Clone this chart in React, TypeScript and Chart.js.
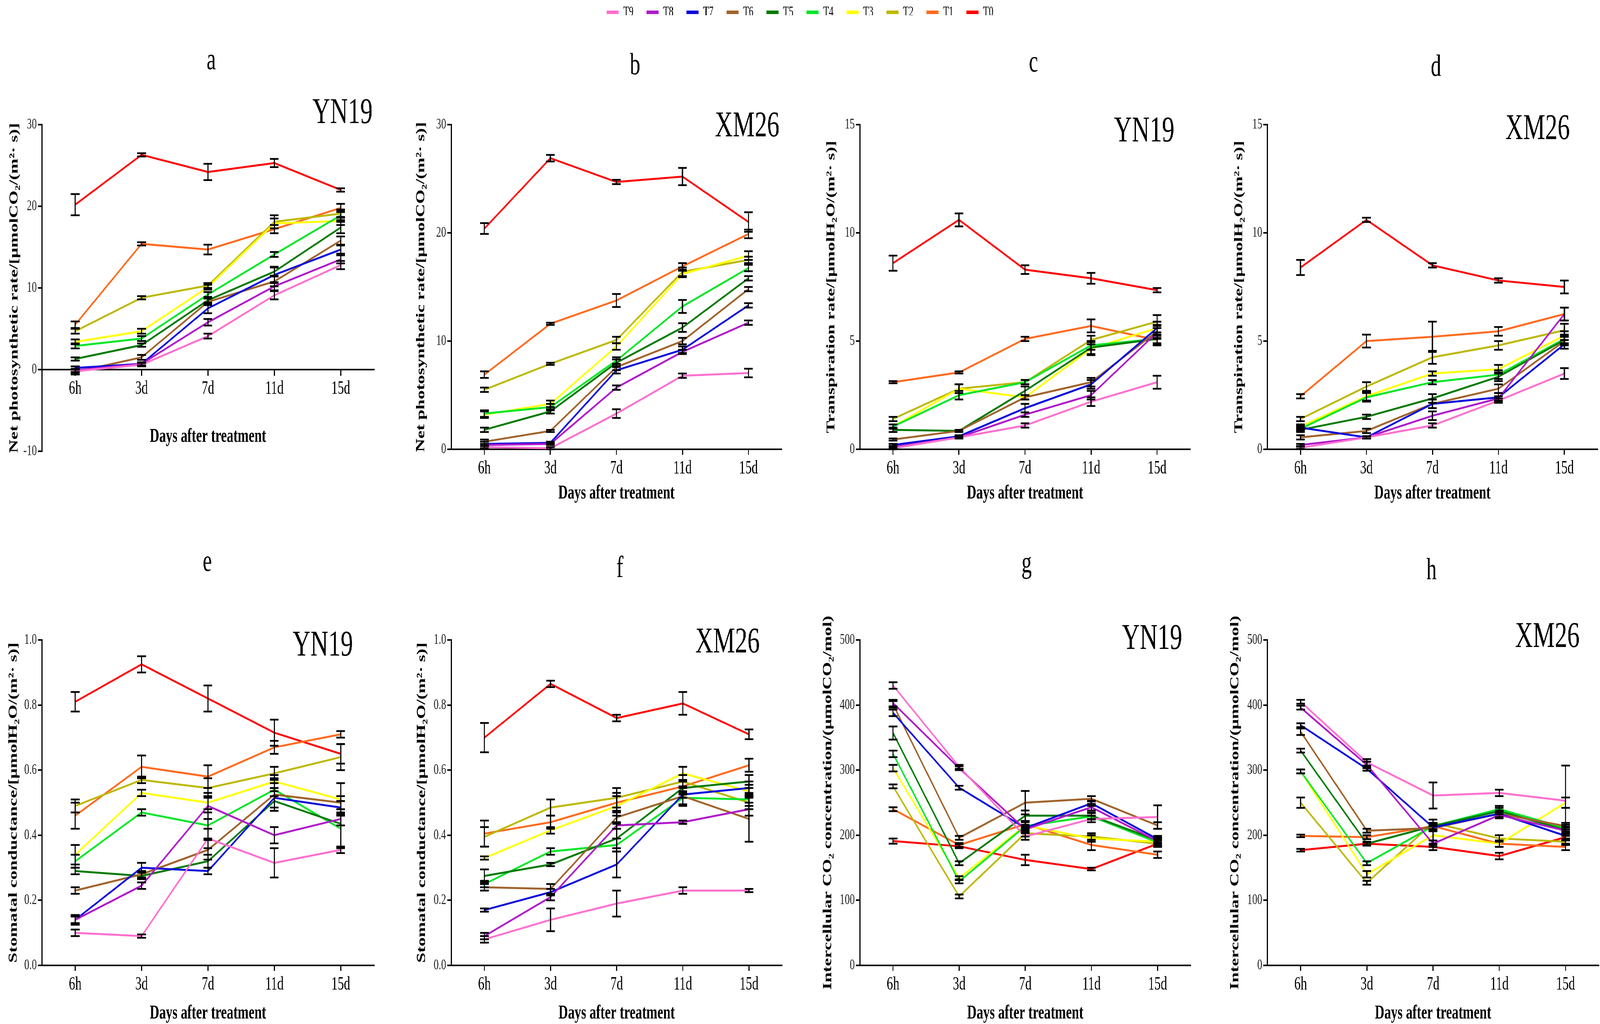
import React, { useEffect, useRef } from 'react';
import { Chart, registerables } from 'chart.js';

Chart.register(...registerables);

// ---------------- data ----------------
const CATEGORIES = ['6h', '3d', '7d', '11d', '15d'];
const SERIES = ['T9', 'T8', 'T7', 'T6', 'T5', 'T4', 'T3', 'T2', 'T1', 'T0'];

// rows follow SERIES order (T9 ... T0)
const PN_YN19 = [
  [-0.2, 0.6, 4.1, 9.1, 12.8],
  [-0.1, 0.7, 5.8, 10.2, 13.5],
  [0.2, 0.7, 7.5, 11.6, 14.7],
  [-0.3, 1.5, 8.3, 10.8, 15.8],
  [1.3, 3.0, 8.5, 12.0, 17.4],
  [2.9, 3.8, 9.2, 14.1, 18.9],
  [3.4, 4.7, 10.1, 17.9, 18.2],
  [4.7, 8.8, 10.3, 18.1, 19.1],
  [5.5, 15.4, 14.7, 17.2, 19.8],
  [20.2, 26.3, 24.2, 25.3, 22.0],
];
const PN_YN19_ERR = [
  [0.2, 0.2, 0.3, 0.5, 0.5],
  [0.2, 0.2, 0.4, 0.5, 0.5],
  [0.2, 0.2, 0.6, 1.0, 0.5],
  [0.3, 0.3, 0.4, 0.6, 0.5],
  [0.2, 0.2, 0.3, 0.5, 0.7],
  [0.3, 0.3, 0.3, 0.3, 0.6],
  [0.3, 0.3, 0.3, 0.6, 0.5],
  [0.3, 0.2, 0.3, 0.8, 0.5],
  [0.4, 0.2, 0.6, 0.5, 0.5],
  [1.3, 0.2, 1.0, 0.5, 0.2],
];

const PN_XM26 = [
  [0.2, 0.1, 3.3, 6.8, 7.05],
  [0.4, 0.5, 5.7, 9.0, 11.7],
  [0.5, 0.6, 7.3, 9.2, 13.3],
  [0.7, 1.7, 7.6, 10.0, 14.8],
  [1.8, 3.5, 8.0, 11.25, 15.8],
  [3.3, 3.9, 8.2, 13.2, 16.75],
  [3.2, 4.2, 9.5, 16.2, 17.9],
  [5.5, 7.9, 10.1, 16.4, 17.5],
  [6.9, 11.6, 13.75, 16.9, 19.9],
  [20.4, 26.9, 24.7, 25.2, 21.0],
];
const PN_XM26_ERR = [
  [0.1, 0.1, 0.4, 0.2, 0.4],
  [0.1, 0.1, 0.2, 0.2, 0.2],
  [0.2, 0.1, 0.3, 0.3, 0.2],
  [0.2, 0.1, 0.3, 0.3, 0.2],
  [0.2, 0.2, 0.3, 0.4, 0.2],
  [0.3, 0.3, 0.3, 0.6, 0.3],
  [0.3, 0.3, 0.3, 0.3, 0.4],
  [0.2, 0.1, 0.3, 0.4, 0.3],
  [0.3, 0.1, 0.6, 0.3, 0.4],
  [0.5, 0.3, 0.2, 0.8, 0.9],
];

const TR_YN19 = [
  [0.05, 0.55, 1.1, 2.2, 3.1],
  [0.1, 0.55, 1.6, 2.5, 5.4],
  [0.2, 0.6, 1.9, 3.0, 5.6],
  [0.45, 0.85, 2.4, 3.1, 5.45],
  [0.9, 0.85, 2.7, 4.7, 5.1],
  [1.05, 2.5, 3.1, 4.8, 5.1],
  [1.05, 2.8, 2.4, 4.65, 5.6],
  [1.4, 2.8, 3.1, 5.05, 5.9],
  [3.1, 3.55, 5.1, 5.7, 5.05],
  [8.6, 10.6, 8.3, 7.9, 7.35],
];
const TR_YN19_ERR = [
  [0.05, 0.05, 0.1, 0.2, 0.3],
  [0.05, 0.05, 0.1, 0.2, 0.3],
  [0.05, 0.05, 0.2, 0.2, 0.3],
  [0.05, 0.05, 0.1, 0.2, 0.3],
  [0.1, 0.05, 0.2, 0.3, 0.2],
  [0.1, 0.2, 0.1, 0.2, 0.3],
  [0.1, 0.2, 0.1, 0.3, 0.3],
  [0.1, 0.2, 0.1, 0.2, 0.3],
  [0.05, 0.05, 0.1, 0.3, 0.2],
  [0.35, 0.3, 0.2, 0.25, 0.1],
];

const TR_XM26 = [
  [0.07, 0.55, 1.1, 2.25, 3.5],
  [0.2, 0.55, 1.55, 2.35, 6.25],
  [1.0, 0.55, 2.1, 2.4, 4.85],
  [0.55, 0.85, 2.1, 2.8, 5.0],
  [0.9, 1.5, 2.35, 3.35, 5.05],
  [0.95, 2.4, 3.1, 3.45, 5.1],
  [1.05, 2.45, 3.5, 3.7, 5.25],
  [1.4, 2.9, 4.25, 4.8, 5.5],
  [2.45, 5.0, 5.2, 5.45, 6.25],
  [8.4, 10.6, 8.5, 7.8, 7.5],
];
const TR_XM26_ERR = [
  [0.05, 0.05, 0.1, 0.1, 0.25],
  [0.05, 0.05, 0.2, 0.1, 0.3],
  [0.1, 0.05, 0.2, 0.2, 0.2],
  [0.1, 0.1, 0.2, 0.2, 0.2],
  [0.1, 0.1, 0.2, 0.2, 0.2],
  [0.1, 0.2, 0.1, 0.2, 0.2],
  [0.1, 0.2, 0.1, 0.2, 0.2],
  [0.1, 0.2, 0.3, 0.2, 0.3],
  [0.1, 0.3, 0.7, 0.2, 0.3],
  [0.35, 0.1, 0.1, 0.1, 0.3],
];

const GS_YN19 = [
  [0.10, 0.09, 0.39, 0.315, 0.355],
  [0.14, 0.245, 0.49, 0.40, 0.45],
  [0.14, 0.30, 0.29, 0.515, 0.485],
  [0.23, 0.28, 0.355, 0.525, 0.50],
  [0.29, 0.275, 0.32, 0.505, 0.435],
  [0.32, 0.47, 0.43, 0.54, 0.42],
  [0.34, 0.53, 0.50, 0.565, 0.51],
  [0.49, 0.57, 0.545, 0.59, 0.64],
  [0.46, 0.61, 0.58, 0.67, 0.71],
  [0.81, 0.925, 0.82, 0.715, 0.65],
];
const GS_YN19_ERR = [
  [0.01, 0.005, 0.03, 0.045, 0.01],
  [0.015, 0.01, 0.04, 0.025, 0.02],
  [0.01, 0.015, 0.01, 0.03, 0.02],
  [0.01, 0.01, 0.03, 0.05, 0.02],
  [0.01, 0.01, 0.02, 0.03, 0.07],
  [0.02, 0.01, 0.04, 0.02, 0.06],
  [0.03, 0.01, 0.02, 0.02, 0.05],
  [0.02, 0.01, 0.03, 0.02, 0.04],
  [0.04, 0.035, 0.035, 0.02, 0.01],
  [0.03, 0.025, 0.04, 0.04, 0.03],
];

const GS_XM26 = [
  [0.08, 0.14, 0.19, 0.23, 0.23],
  [0.09, 0.21, 0.43, 0.44, 0.48],
  [0.17, 0.225, 0.31, 0.525, 0.545],
  [0.24, 0.235, 0.455, 0.52, 0.45],
  [0.275, 0.31, 0.39, 0.545, 0.565],
  [0.25, 0.35, 0.37, 0.515, 0.51],
  [0.33, 0.415, 0.49, 0.59, 0.535],
  [0.395, 0.485, 0.515, 0.565, 0.50],
  [0.405, 0.44, 0.50, 0.55, 0.615],
  [0.70, 0.865, 0.76, 0.805, 0.71],
];
const GS_XM26_ERR = [
  [0.01, 0.035, 0.04, 0.01, 0.005],
  [0.01, 0.01, 0.01, 0.005, 0.02],
  [0.005, 0.01, 0.04, 0.01, 0.02],
  [0.01, 0.015, 0.02, 0.03, 0.07],
  [0.02, 0.005, 0.03, 0.02, 0.02],
  [0.01, 0.01, 0.02, 0.02, 0.02],
  [0.005, 0.01, 0.03, 0.02, 0.02],
  [0.03, 0.025, 0.03, 0.02, 0.02],
  [0.04, 0.02, 0.03, 0.02, 0.02],
  [0.045, 0.01, 0.01, 0.035, 0.015],
];

const CI_YN19 = [
  [430, 305, 198, 225, 228],
  [403, 303, 209, 243, 191],
  [388, 273, 211, 249, 194],
  [401, 196, 250, 256, 215],
  [357, 157, 230, 230, 192],
  [325, 129, 214, 229, 189],
  [303, 134, 215, 195, 190],
  [275, 106, 203, 198, 187],
  [240, 185, 217, 185, 170],
  [191, 183, 162, 148, 187],
];
const CI_YN19_ERR = [
  [5, 3, 5, 5, 18],
  [5, 3, 5, 5, 5],
  [5, 3, 5, 4, 5],
  [5, 3, 18, 4, 5],
  [10, 3, 8, 5, 5],
  [5, 3, 8, 5, 5],
  [5, 3, 5, 5, 5],
  [3, 3, 5, 5, 5],
  [3, 3, 5, 8, 5],
  [4, 3, 8, 2, 5],
];

const CI_XM26 = [
  [405, 312, 261, 265, 253],
  [396, 308, 187, 231, 207],
  [369, 302, 212, 233, 199],
  [359, 207, 211, 233, 214],
  [330, 187, 214, 237, 208],
  [298, 157, 214, 240, 211],
  [298, 140, 200, 187, 250],
  [250, 127, 219, 195, 190],
  [199, 197, 214, 187, 182],
  [177, 187, 182, 168, 197],
];
const CI_XM26_ERR = [
  [3, 5, 20, 5, 54],
  [3, 5, 5, 5, 5],
  [3, 3, 5, 5, 5],
  [5, 3, 5, 5, 5],
  [3, 3, 5, 5, 5],
  [3, 3, 5, 5, 5],
  [3, 5, 15, 5, 8],
  [8, 3, 5, 5, 5],
  [2, 3, 5, 5, 5],
  [2, 2, 5, 5, 5],
];

// ---------------- style / layout ----------------
const FIG_W = 6097;
const FIG_H = 2621;
const COLORS = ['#FF6FCF', '#B01ACB', '#0A0ADC', '#A0642C', '#007A00', '#00E626', '#FFFF00', '#BDB800', '#FF6A1E', '#FF0000'];
const FONT = "'Liberation Serif', 'Times New Roman', 'DejaVu Serif', serif";
const Y_TITLE_SIZE = 47;
const X_TITLE_SIZE = 50;
const CAP_HALF = 16.5;

const TITLE_PN = 'Net photosynthetic rate/[μmolCO₂/(m²· s)]';
const TITLE_TR = 'Transpiration rate/[μmolH₂O/(m²· s)]';
const TITLE_GS = 'Stomatal conductance/[μmolH₂O/(m²· s)]';
const TITLE_CI = 'Intercellular CO₂ concentration/(μmolCO₂/mol)';

interface Box { left: number; top: number; width: number; height: number }
interface PanelSpec {
  key: string;
  values: number[][];
  errors: number[][];
  yTitle: string;
  yMin: number; yMax: number; step: number; dec: number;
  letter: string; cultivar: string;
  box: Box;
  axisX: number; plotRight: number; plotTop: number; plotBottom: number;
  yTitleX: number;
  letterX: number; letterBase: number;
  cultRight: number; cultBase: number;
  zeroAxis: boolean; xh: number; xTitlePad: number;
}

const PANELS: PanelSpec[] = [
  { key: 'a', values: PN_YN19, errors: PN_YN19_ERR, yTitle: TITLE_PN, yMin: -10, yMax: 30, step: 10, dec: 0,
    letter: 'a', cultivar: 'YN19', box: { left: 0, top: 0, width: 1530, height: 1310 },
    axisX: 160, plotRight: 1425, plotTop: 319, plotBottom: 1155, yTitleX: 55,
    letterX: 805, letterBase: 177, cultRight: 1420, cultBase: 315, zeroAxis: true, xh: 200, xTitlePad: 3 },
  { key: 'b', values: PN_XM26, errors: PN_XM26_ERR, yTitle: TITLE_PN, yMin: 0, yMax: 30, step: 10, dec: 0,
    letter: 'b', cultivar: 'XM26', box: { left: 1530, top: 0, width: 1530, height: 1310 },
    axisX: 1720, plotRight: 2978, plotTop: 319, plotBottom: 1150, yTitleX: 1605,
    letterX: 2420, letterBase: 190, cultRight: 2970, cultBase: 349, zeroAxis: false, xh: 140, xTitlePad: 2 },
  { key: 'c', values: TR_YN19, errors: TR_YN19_ERR, yTitle: TITLE_TR, yMin: 0, yMax: 15, step: 5, dec: 0,
    letter: 'c', cultivar: 'YN19', box: { left: 3060, top: 0, width: 1500, height: 1310 },
    axisX: 3277, plotRight: 4535, plotTop: 319, plotBottom: 1150, yTitleX: 3168,
    letterX: 3938, letterBase: 183, cultRight: 4475, cultBase: 362, zeroAxis: false, xh: 140, xTitlePad: 2 },
  { key: 'd', values: TR_XM26, errors: TR_XM26_ERR, yTitle: TITLE_TR, yMin: 0, yMax: 15, step: 5, dec: 0,
    letter: 'd', cultivar: 'XM26', box: { left: 4560, top: 0, width: 1537, height: 1310 },
    axisX: 4830, plotRight: 6087, plotTop: 319, plotBottom: 1150, yTitleX: 4722,
    letterX: 5472, letterBase: 194, cultRight: 5982, cultBase: 356, zeroAxis: false, xh: 140, xTitlePad: 2 },
  { key: 'e', values: GS_YN19, errors: GS_YN19_ERR, yTitle: TITLE_GS, yMin: 0, yMax: 1, step: 0.2, dec: 1,
    letter: 'e', cultivar: 'YN19', box: { left: 0, top: 1310, width: 1530, height: 1311 },
    axisX: 160, plotRight: 1425, plotTop: 1638, plotBottom: 2471, yTitleX: 52,
    letterX: 790, letterBase: 1461, cultRight: 1345, cultBase: 1678, zeroAxis: false, xh: 150, xTitlePad: 2 },
  { key: 'f', values: GS_XM26, errors: GS_XM26_ERR, yTitle: TITLE_GS, yMin: 0, yMax: 1, step: 0.2, dec: 1,
    letter: 'f', cultivar: 'XM26', box: { left: 1530, top: 1310, width: 1530, height: 1311 },
    axisX: 1720, plotRight: 2980, plotTop: 1638, plotBottom: 2471, yTitleX: 1608,
    letterX: 2362, letterBase: 1477, cultRight: 2895, cultBase: 1670, zeroAxis: false, xh: 150, xTitlePad: 2 },
  { key: 'g', values: CI_YN19, errors: CI_YN19_ERR, yTitle: TITLE_CI, yMin: 0, yMax: 500, step: 100, dec: 0,
    letter: 'g', cultivar: 'YN19', box: { left: 3060, top: 1310, width: 1500, height: 1311 },
    axisX: 3277, plotRight: 4537, plotTop: 1638, plotBottom: 2471, yTitleX: 3155,
    letterX: 3912, letterBase: 1465, cultRight: 4505, cultBase: 1661, zeroAxis: false, xh: 150, xTitlePad: 2 },
  { key: 'h', values: CI_XM26, errors: CI_XM26_ERR, yTitle: TITLE_CI, yMin: 0, yMax: 500, step: 100, dec: 0,
    letter: 'h', cultivar: 'XM26', box: { left: 4560, top: 1310, width: 1537, height: 1311 },
    axisX: 4830, plotRight: 6092, plotTop: 1638, plotBottom: 2471, yTitleX: 4707,
    letterX: 5455, letterBase: 1483, cultRight: 6019, cultBase: 1656, zeroAxis: false, xh: 150, xTitlePad: 2 },
];

// ---------------- plugins ----------------
const errorBarPlugin = {
  id: 'errorBars',
  afterDatasetsDraw(chart: any) {
    const ctx = chart.ctx;
    const ys = chart.scales.y;
    ctx.save();
    ctx.strokeStyle = '#000';
    ctx.lineWidth = 4.5;
    ctx.lineCap = 'butt';
    chart.data.datasets.forEach((ds: any, i: number) => {
      const meta = chart.getDatasetMeta(i);
      meta.data.forEach((pt: any, j: number) => {
        const v = ds.data[j];
        const e = ds.errors ? ds.errors[j] : 0;
        const x = pt.x;
        const yT = ys.getPixelForValue(v + e);
        const yB = ys.getPixelForValue(v - e);
        ctx.beginPath();
        ctx.moveTo(x, yT);
        ctx.lineTo(x, yB);
        ctx.moveTo(x - CAP_HALF, yT);
        ctx.lineTo(x + CAP_HALF, yT);
        ctx.moveTo(x - CAP_HALF, yB);
        ctx.lineTo(x + CAP_HALF, yB);
        ctx.stroke();
      });
    });
    ctx.restore();
  },
};

function makeTextPlugin(p: PanelSpec) {
  return {
    id: 'panelText_' + p.key,
    afterDraw(chart: any) {
      const ctx = chart.ctx;
      ctx.save();
      ctx.fillStyle = '#000';
      ctx.textBaseline = 'alphabetic';
      ctx.font = `78px ${FONT}`;
      ctx.textAlign = 'center';
      ctx.fillText(p.letter, p.letterX - p.box.left, p.letterBase - p.box.top);
      ctx.font = `94px ${FONT}`;
      ctx.textAlign = 'right';
      ctx.fillText(p.cultivar, p.cultRight - p.box.left, p.cultBase - p.box.top);
      ctx.restore();
    },
  };
}

// ---------------- components ----------------
function PanelChart({ p }: { p: PanelSpec }) {
  const ref = useRef<HTMLCanvasElement>(null);
  useEffect(() => {
    const canvas = ref.current;
    if (!canvas) return;
    const pl = p.yTitleX - p.box.left - Y_TITLE_SIZE / 2;
    const yWidth = p.axisX - p.box.left - pl;
    const pr = p.box.left + p.box.width - p.plotRight;
    const pt = p.plotTop - p.box.top;
    const pb = p.box.top + p.box.height - p.plotBottom - (p.zeroAxis ? 0 : p.xh);

    const datasets = SERIES.map((name, i) => ({
      label: name,
      data: p.values[i],
      errors: p.errors[i],
      borderColor: COLORS[i],
      backgroundColor: COLORS[i],
      borderWidth: 5,
      pointRadius: 0,
      pointHoverRadius: 0,
      tension: 0,
      fill: false,
    }));

    const chart = new Chart(canvas, {
      type: 'line',
      data: { labels: CATEGORIES, datasets: datasets as any },
      options: {
        animation: false,
        responsive: false,
        devicePixelRatio: 1,
        events: [],
        layout: { padding: { left: pl, right: pr, top: pt, bottom: pb } },
        plugins: {
          legend: { display: false },
          title: { display: false },
          tooltip: { enabled: false },
        },
        scales: {
          x: {
            type: 'category',
            offset: true,
            position: (p.zeroAxis ? { y: 0 } : 'bottom') as any,
            grid: {
              display: true, drawOnChartArea: false, drawTicks: true, tickLength: 14,
              color: '#000', lineWidth: 4, offset: false,
            },
            border: { display: true, color: '#000', width: 4 },
            ticks: {
              font: { family: FONT, size: 48, lineHeight: 1 }, color: '#000', padding: 11,
              maxRotation: 0, autoSkip: false,
            },
            title: {
              display: true, text: 'Days after treatment',
              font: { family: FONT, size: X_TITLE_SIZE, weight: 'bold', lineHeight: 1 }, color: '#000',
              padding: { top: 0, bottom: p.xTitlePad },
            },
            afterFit: (s: any) => { s.height = p.xh; },
          },
          y: {
            type: 'linear',
            position: 'left',
            min: p.yMin,
            max: p.yMax,
            grid: {
              display: true, drawOnChartArea: false, drawTicks: true, tickLength: 16,
              color: '#000', lineWidth: 4,
            },
            border: { display: true, color: '#000', width: 4 },
            ticks: {
              stepSize: p.step,
              font: { family: FONT, size: 38 }, color: '#222', padding: 4,
              callback: (v: any) => Number(v).toFixed(p.dec),
            },
            title: {
              display: true, text: p.yTitle,
              font: { family: FONT, size: Y_TITLE_SIZE, weight: 'bold', lineHeight: 1 }, color: '#000',
              padding: 0,
            },
            afterFit: (s: any) => { s.width = yWidth; },
          },
        },
      } as any,
      plugins: [errorBarPlugin, makeTextPlugin(p)],
    });
    return () => chart.destroy();
  }, [p]);
  return (
    <canvas
      ref={ref}
      width={p.box.width}
      height={p.box.height}
      style={{ position: 'absolute', left: p.box.left, top: p.box.top, width: p.box.width, height: p.box.height }}
    />
  );
}

function LegendChart() {
  const ref = useRef<HTMLCanvasElement>(null);
  useEffect(() => {
    const canvas = ref.current;
    if (!canvas) return;
    const chart = new Chart(canvas, {
      type: 'line',
      data: {
        labels: [],
        datasets: SERIES.map((name, i) => ({
          label: name, data: [], borderColor: COLORS[i], backgroundColor: COLORS[i], borderWidth: 0,
        })),
      },
      options: {
        animation: false,
        responsive: false,
        devicePixelRatio: 1,
        events: [],
        layout: { padding: 0 },
        scales: { x: { display: false }, y: { display: false } },
        plugins: {
          tooltip: { enabled: false },
          legend: {
            display: true,
            position: 'top',
            align: 'center',
            labels: {
              font: { family: FONT, size: 35 },
              color: '#000',
              boxWidth: 46,
              boxHeight: 9,
              padding: 50,
            },
          },
        },
      } as any,
    });
    return () => chart.destroy();
  }, []);
  return (
    <canvas
      ref={ref}
      width={FIG_W}
      height={150}
      style={{ position: 'absolute', left: 0, top: -36, width: FIG_W, height: 150 }}
    />
  );
}

export default function App() {
  const vw = typeof window !== 'undefined' ? window.innerWidth : FIG_W;
  const vh = typeof window !== 'undefined' ? window.innerHeight : FIG_H;
  const sx = vw / FIG_W;
  const sy = vh / FIG_H;
  return (
    <div style={{ position: 'absolute', left: 0, top: 0, width: vw, height: vh, overflow: 'hidden', background: '#fff' }}>
      <div
        style={{
          position: 'absolute', left: 0, top: 0, width: FIG_W, height: FIG_H,
          background: '#fff', overflow: 'hidden',
          transform: `scale(${sx}, ${sy})`, transformOrigin: '0 0',
        }}
      >
        {PANELS.map((p) => (
          <PanelChart key={p.key} p={p} />
        ))}
        <LegendChart />
      </div>
    </div>
  );
}
